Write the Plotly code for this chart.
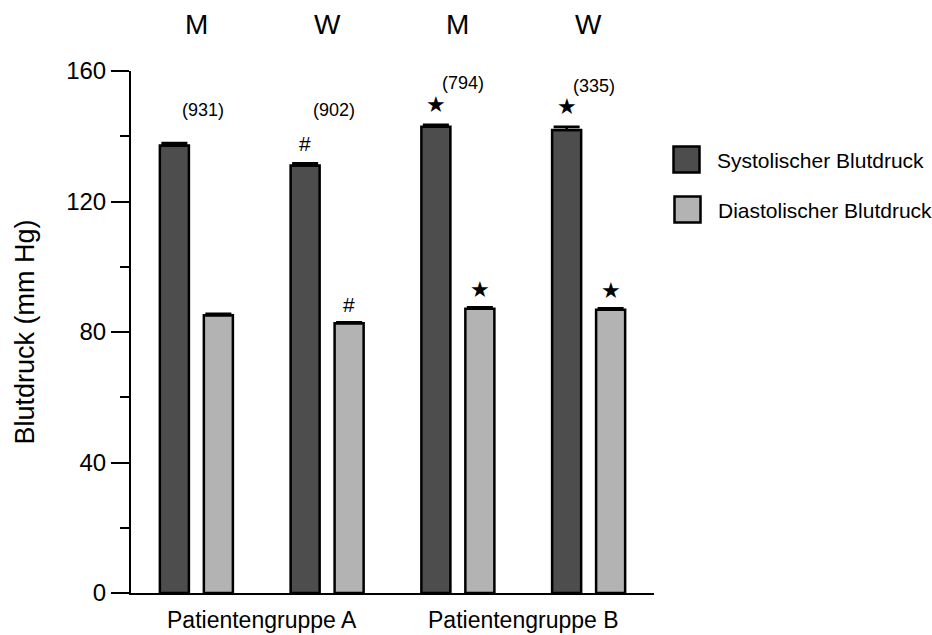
import plotly.graph_objects as go

# ---- data ----
categories = ["A-M", "A-W", "B-M", "B-W"]
sex_labels = ["M", "W", "M", "W"]
group_labels = ["Patientengruppe A", "Patientengruppe B"]
systolic = [137.2, 131.0, 142.9, 141.9]
systolic_err = [0.7, 0.7, 0.6, 1.0]
diastolic = [85.1, 82.7, 87.1, 86.8]
diastolic_err = [0.5, 0.3, 0.5, 0.5]
n_patients = [931, 902, 794, 335]
sys_marks = ["", "#", "\u2605", "\u2605"]
dia_marks = ["", "#", "\u2605", "\u2605"]
series_names = ["Systolischer Blutdruck", "Diastolischer Blutdruck"]
y_ticks = [0, 40, 80, 120, 160]

# ---- style ----
FONT = "Liberation Sans, Arial, Helvetica, sans-serif"
DARK = "#4d4d4d"
LIGHT = "#b3b3b3"
W, H = 932, 635
L, R, T, B = 131, 654, 71, 593


def px_x(px):
    return (px - L) / (R - L)


def px_y(py):
    return (B - py) / (B - T)


fig = go.Figure()
for name, vals, errs, col in [
    (series_names[0], systolic, systolic_err, DARK),
    (series_names[1], diastolic, diastolic_err, LIGHT),
]:
    fig.add_trace(go.Bar(
        x=categories, y=vals, name=name,
        marker=dict(color=col, line=dict(color="black", width=2.5)),
        error_y=dict(type="data", array=errs, arrayminus=[0] * len(errs),
                     symmetric=False, color="black", thickness=2.5, width=13),
        showlegend=False,
    ))

annotations = []
# sex labels on top
for c, lab in zip(categories, sex_labels):
    annotations.append(dict(x=c, xref="x", y=px_y(25), yref="paper", text=lab,
                            showarrow=False, font=dict(size=28, color="black", family=FONT),
                            xanchor="center", yanchor="middle"))
# group labels bottom
for i, g in enumerate(group_labels):
    annotations.append(dict(x=2 * i + 0.5, xref="x", y=px_y(620), yref="paper", text=g,
                            showarrow=False, font=dict(size=23, color="black", family=FONT),
                            xanchor="center", yanchor="middle"))
# n labels
n_label_y = [148.1, 148.1, 156.4, 155.3]
n_label_shift = [7, 7, 5, 5]
for c, n, yy, sh in zip(categories, n_patients, n_label_y, n_label_shift):
    annotations.append(dict(x=c, xref="x", y=yy, yref="y", text=f"({n})",
                            showarrow=False, font=dict(size=18, color="black", family=FONT),
                            xanchor="center", yanchor="middle", xshift=sh))
# significance marks
for c, v, e, m in zip(categories, systolic, systolic_err, sys_marks):
    if m:
        annotations.append(dict(x=c, xref="x", y=v + e, yref="y", text=m, showarrow=False,
                                font=dict(size=21 if m == "#" else 22, color="black", family=FONT),
                                xanchor="center", yanchor="middle", xshift=-22, yshift=20))
for c, v, e, m in zip(categories, diastolic, diastolic_err, dia_marks):
    if m:
        annotations.append(dict(x=c, xref="x", y=v + e, yref="y", text=m, showarrow=False,
                                font=dict(size=21 if m == "#" else 22, color="black", family=FONT),
                                xanchor="center", yanchor="middle", xshift=22, yshift=18))

# manual legend
shapes = []
leg_items = [(series_names[0], DARK, 686.5, 159.5), (series_names[1], LIGHT, 687.5, 209.5)]
for name, col, cx, cy in leg_items:
    shapes.append(dict(type="rect", xref="paper", yref="paper",
                       x0=px_x(cx - 13), x1=px_x(cx + 13), y0=px_y(cy + 13), y1=px_y(cy - 13),
                       fillcolor=col, line=dict(color="black", width=2.5)))
    annotations.append(dict(x=px_x(cx + 28), xref="paper", y=px_y(cy + 1), yref="paper",
                            text=name, showarrow=False, xanchor="left", yanchor="middle",
                            font=dict(size=21, color="black", family=FONT)))

fig.update_layout(
    width=W, height=H,
    margin=dict(l=L, r=W - R, t=T, b=H - B, pad=0),
    paper_bgcolor="white", plot_bgcolor="white",
    barmode="group", bargap=0.327, bargroupgap=0.34,
    font=dict(family=FONT, color="black"),
    annotations=annotations, shapes=shapes,
    xaxis=dict(type="category", range=[-0.5, 3.5], showline=True, linecolor="black",
               linewidth=2, showticklabels=False, ticks="", showgrid=False, zeroline=False,
               fixedrange=True),
    yaxis=dict(range=[0, 160], tickvals=y_ticks, ticktext=[str(t) for t in y_ticks],
               showline=True, linecolor="black", linewidth=2, ticks="outside",
               ticklen=18, tickwidth=2, tickcolor="black",
               minor=dict(dtick=20, tick0=0, ticks="outside", ticklen=9, tickwidth=2,
                          tickcolor="black", showgrid=False),
               tickfont=dict(size=24, family=FONT, color="black"),
               showgrid=False, zeroline=False,
               title=dict(text="Blutdruck (mm Hg)", font=dict(size=27, family=FONT, color="black"),
                          standoff=24),
               automargin=False),
)

fig.write_html("out.html")
